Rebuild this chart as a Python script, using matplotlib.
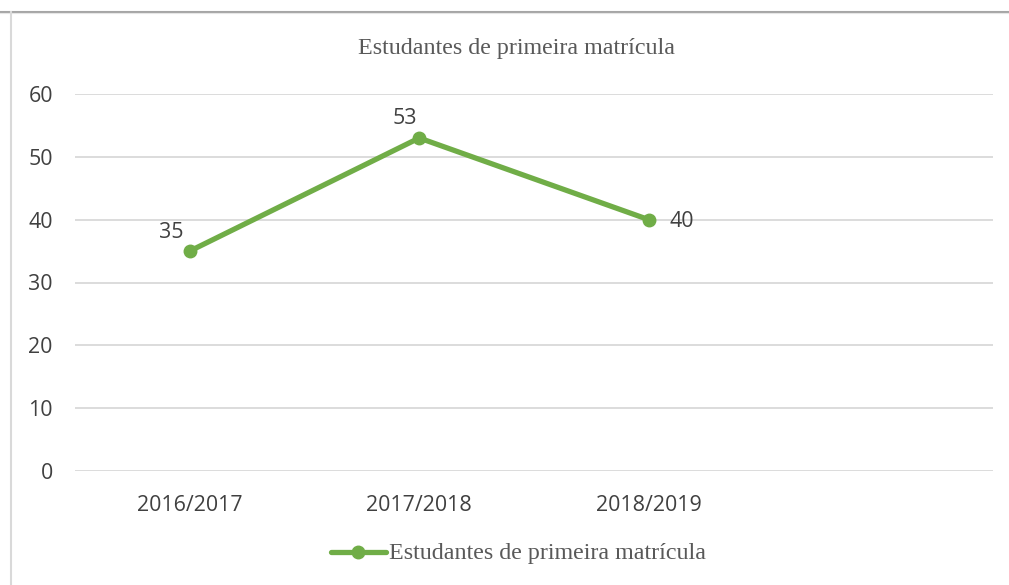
import matplotlib
matplotlib.use("Agg")
import matplotlib.pyplot as plt
from matplotlib.lines import Line2D

categories = ["2016/2017", "2017/2018", "2018/2019", ""]
values = [35, 53, 40]
label_offsets = [(-19, 19), (-14, 19), (33, -2)]  # pixel offsets of data labels
title = "Estudantes de primeira matrícula"
yticks = [0, 10, 20, 30, 40, 50, 60]

GREEN = "#70AD47"
TEXT = "#404040"
TITLE = "#595959"
GRID = "#D9D9D9"

W, H = 1009, 585
fig = plt.figure(figsize=(W / 100, H / 100), dpi=100)

# chart frame lines
fig.add_artist(Line2D([0, 1], [1 - 11.5 / H, 1 - 11.5 / H], color="#A6A6A6", lw=1.5))
fig.add_artist(Line2D([0, 1], [1 - 13 / H, 1 - 13 / H], color="#E6E6E6", lw=0.8))
fig.add_artist(Line2D([11 / W, 11 / W], [0, 1 - 12 / H], color="#D9D9D9", lw=1.5))

ax = fig.add_axes([75 / W, 1 - 471 / H, 918 / W, 377 / H])
ax.set_xlim(-0.5, len(categories) - 0.5)
ax.set_ylim(0, 60)
for s in ax.spines.values():
    s.set_visible(False)
ax.set_yticks(yticks)
ax.yaxis.grid(True, color=GRID, lw=1.3)
ax.set_axisbelow(True)
ax.tick_params(axis="both", length=0, labelsize=15.4, labelcolor=TEXT)
ax.tick_params(axis="y", pad=16)
ax.tick_params(axis="x", pad=17)
ax.set_xticks(range(len(categories)))
ax.set_xticklabels(categories)
for lab in ax.get_xticklabels() + ax.get_yticklabels():
    lab.set_fontfamily("Open Sans")

xs = list(range(len(values)))
ax.plot(xs, values, color=GREEN, lw=3.8, marker="o", ms=9, solid_capstyle="round", zorder=3)

for x, v, (dx, dy) in zip(xs, values, label_offsets):
    ax.annotate(str(v), (x, v), xytext=(dx * 0.72, dy * 0.72), textcoords="offset points",
                ha="center", va="center", fontsize=15.4, color=TEXT, family="Open Sans")

fig.text(517 / W, 1 - 48.5 / H, title, ha="center", va="center", fontsize=17.3,
         color=TITLE, family="Liberation Serif")

# legend
ly = 1 - 552 / H
fig.add_artist(Line2D([331 / W, 386 / W], [ly, ly], color=GREEN, lw=3.8, solid_capstyle="round"))
fig.add_artist(Line2D([358 / W], [ly], color=GREEN, marker="o", ms=9, lw=0))
fig.text(389 / W, 1 - 554 / H, title, ha="left", va="center", fontsize=17.3, color=TITLE,
         family="Liberation Serif")

fig.savefig("out.png", dpi=100)
